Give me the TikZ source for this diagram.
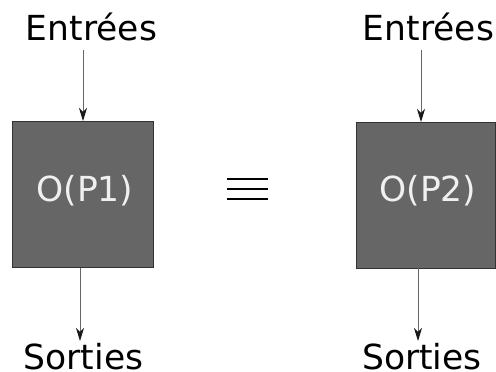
\documentclass[tikz,border=0pt]{standalone}
\usepackage{fontspec}
\setmainfont{DejaVu Sans}
\usetikzlibrary{arrows.meta}
\begin{document}
\begin{tikzpicture}[x=1pt,y=-1pt,
  lbl/.style={font=\fontsize{34.5}{40}\selectfont, inner sep=0pt, anchor=base},
  procbox/.style={draw=black!80, fill=black!60, line width=1pt},
  flow/.style={draw=black!60, line width=1pt, -{Stealth[length=13pt,width=8pt,inset=4pt,color=black!90]}},
  eqbar/.style={line width=2.3pt, black}]
\useasboundingbox (0,0) rectangle (496,372);

% left process
\draw[procbox] (12,121) rectangle (153,267);
\node[lbl, text=white!94!black] (p1) at (85,201) {O(P1)};
\node[lbl] (in1) at (91.5,41) {Entrées};
\node[lbl] (out1) at (83.5,369) {Sorties};
\coordinate (a1) at (83,50);
\coordinate (b1) at (83,121);
\coordinate (c1) at (80,268);
\coordinate (d1) at (80,341);
\draw[flow] (a1) -- (b1);
\draw[flow] (c1) -- (d1);

% equivalence sign
\draw[eqbar] (227,179) -- (268,179);
\draw[eqbar] (227,189) -- (268,189);
\draw[eqbar] (227,199) -- (268,199);

% right process
\draw[procbox] (356,122) rectangle (495.5,268);
\node[lbl, text=white!94!black] (p2) at (428,201) {O(P2)};
\node[lbl] (in2) at (428.5,41) {Entrées};
\node[lbl] (out2) at (422,369) {Sorties};
\coordinate (a2) at (421,50);
\coordinate (b2) at (421,122);
\coordinate (c2) at (418,268);
\coordinate (d2) at (418,341);
\draw[flow] (a2) -- (b2);
\draw[flow] (c2) -- (d2);
\end{tikzpicture}
\end{document}
